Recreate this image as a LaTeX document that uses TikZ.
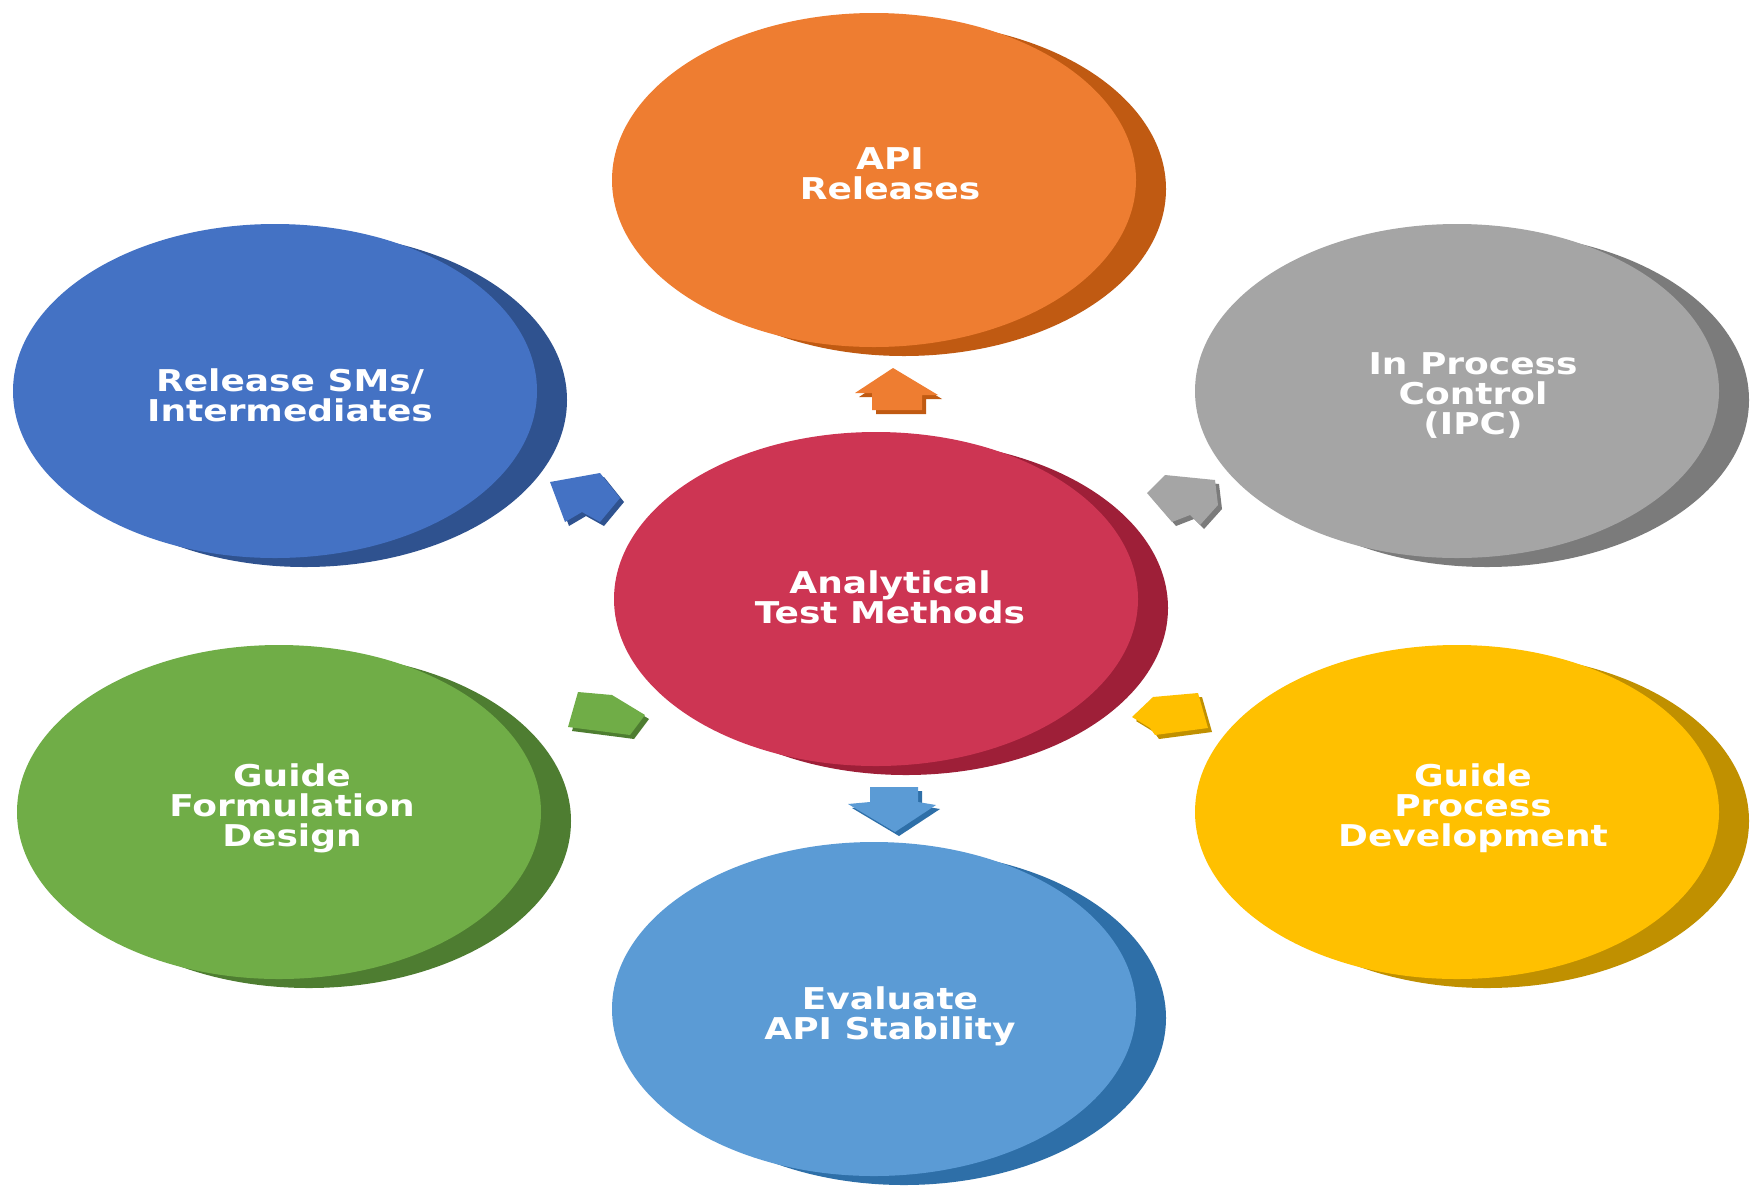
\documentclass[tikz,border=0pt]{standalone}
\usepackage{fontspec}
\newfontfamily\lblfont{DejaVu Sans}[FakeStretch=1.2]
\usetikzlibrary{shapes.geometric}
\definecolor{orangeM}{HTML}{EE7D31}\definecolor{orangeD}{HTML}{C05A12}
\definecolor{redM}{HTML}{CD3553}\definecolor{redD}{HTML}{9E1F38}
\definecolor{blueM}{HTML}{4472C4}\definecolor{blueD}{HTML}{2F528F}
\definecolor{grayM}{HTML}{A5A5A5}\definecolor{grayD}{HTML}{7B7B7B}
\definecolor{greenM}{HTML}{70AD47}\definecolor{greenD}{HTML}{4E7D31}
\definecolor{yellowM}{HTML}{FFC000}\definecolor{yellowD}{HTML}{C09000}
\definecolor{lblueM}{HTML}{5B9BD5}\definecolor{lblueD}{HTML}{2E6FA8}
\tikzset{
  face/.style={ellipse, minimum width=524pt, minimum height=334pt, inner sep=0pt},
  lbl/.style={text=white, font=\lblfont\bfseries\fontsize{30}{30}\selectfont, align=center, inner sep=0pt},
}
\newcommand\mydisc[5]{%
  \fill[#5] (#2+30,#3+9) ellipse [x radius=262, y radius=167];
  \node[face, fill=#4] (#1) at (#2,#3) {};
}
\begin{document}
\begin{tikzpicture}[x=1pt,y=-1pt]
\fill[white] (0,0) rectangle (1760,1189);
\useasboundingbox (0,0) rectangle (1760,1189);
% discs
\mydisc{api}{874}{180}{orangeM}{orangeD}
\mydisc{rel}{275}{391}{blueM}{blueD}
\mydisc{ipc}{1457}{391}{grayM}{grayD}
\mydisc{form}{279}{812}{greenM}{greenD}
\mydisc{proc}{1457}{812}{yellowM}{yellowD}
\mydisc{stab}{874}{1009}{lblueM}{lblueD}
\mydisc{atm}{876}{599}{redM}{redD}
% labels
\node[lbl] (tapi) at (890,174) {API\\Releases};
\node[lbl] (trel) at (290,395) {Release SMs/\\Intermediates};
\node[lbl] (tipc) at (1473,396) {In Process\\Control\\(IPC)};
\node[lbl] (tform) at (292,808) {Guide\\Formulation\\Design};
\node[lbl] (tproc) at (1473,808) {Guide\\Process\\Development};
\node[lbl] (tstab) at (890,1016) {Evaluate\\API Stability};
\node[lbl] (tatm) at (890,597) {Analytical\\Test Methods};
% block arrows
\begin{scope}[shift={(4,4)}]
\fill[orangeD] (893,368) -- (938,395) -- (922,395) -- (922,410) -- (872,410) -- (872,393) -- (855,393) -- cycle;
\fill[lblueD] (870,787) -- (918,787) -- (918,802) -- (936,805) -- (895,832) -- (848,804) -- (870,802) -- cycle;
\fill[blueD] (550,482) -- (600,473) -- (620,498) -- (600,522) -- (582,512) -- (565,522) -- cycle;
\fill[grayD] (1147,493) -- (1165,475) -- (1215,480) -- (1218,505) -- (1200,525) -- (1190,515) -- (1172,522) -- cycle;
\fill[greenD] (578,692) -- (612,695) -- (645,715) -- (630,735) -- (615,733) -- (568,727) -- cycle;
\fill[yellowD] (1132,717) -- (1153,697) -- (1198,693) -- (1208,728) -- (1155,735) -- (1150,728) -- cycle;
\end{scope}
\fill[orangeM] (893,368) -- (938,395) -- (922,395) -- (922,410) -- (872,410) -- (872,393) -- (855,393) -- cycle;
\fill[lblueM] (870,787) -- (918,787) -- (918,802) -- (936,805) -- (895,832) -- (848,804) -- (870,802) -- cycle;
\fill[blueM] (550,482) -- (600,473) -- (620,498) -- (600,522) -- (582,512) -- (565,522) -- cycle;
\fill[grayM] (1147,493) -- (1165,475) -- (1215,480) -- (1218,505) -- (1200,525) -- (1190,515) -- (1172,522) -- cycle;
\fill[greenM] (578,692) -- (612,695) -- (645,715) -- (630,735) -- (615,733) -- (568,727) -- cycle;
\fill[yellowM] (1132,717) -- (1153,697) -- (1198,693) -- (1208,728) -- (1155,735) -- (1150,728) -- cycle;
\end{tikzpicture}
\end{document}
